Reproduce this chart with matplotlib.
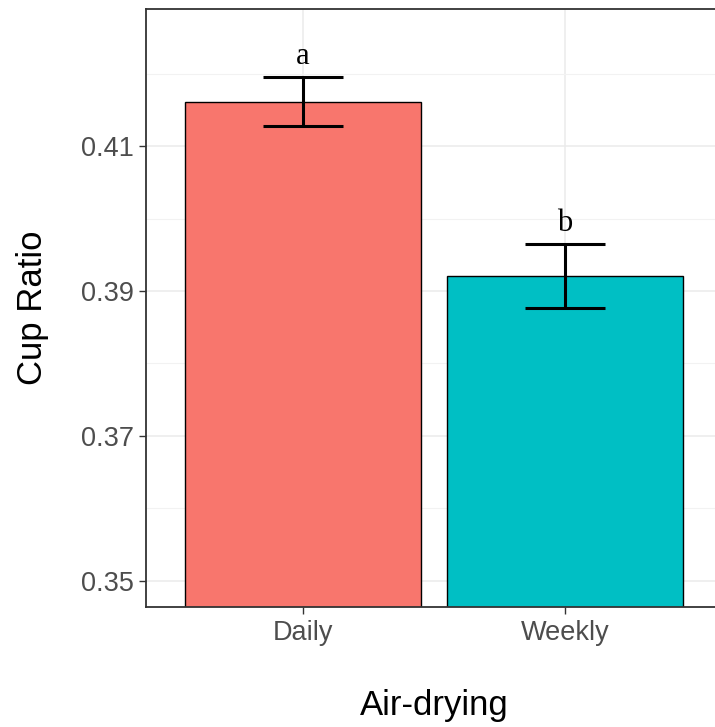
import numpy as np
import matplotlib.pyplot as plt
from matplotlib.ticker import MultipleLocator

# data
groups = ["Daily", "Weekly"]
means = [0.41614, 0.39209]
se = [0.00338, 0.00441]
letters = ["a", "b"]
colors = ["#F8766D", "#00BFC4"]
yticks = [0.35, 0.37, 0.39, 0.41]

fig = plt.figure(figsize=(7.15, 7.27), dpi=100)
ax = fig.add_axes([146 / 715, 1 - 607 / 727, 576 / 715, 598 / 727])

x = np.arange(1, len(groups) + 1)
ax.bar(x, means, width=0.9, color=colors, edgecolor="black", linewidth=1.0, zorder=3)
ax.errorbar(x, means, yerr=se, fmt="none", ecolor="black", elinewidth=2.2,
            capsize=28.5, capthick=2.2, zorder=4)

for xi, m, s, lab in zip(x, means, se, letters):
    ax.text(xi, m + s + 0.0018, lab, ha="center", va="baseline",
            family="Liberation Serif", fontsize=22, zorder=5)

ax.set_xlim(0.4, 2.6)
ax.set_ylim(0.34641, 0.4289)
ax.set_xticks(x)
ax.set_xticklabels(groups)
ax.set_yticks(yticks)
ax.set_yticklabels([f"{v:.2f}" for v in yticks])
ax.yaxis.set_minor_locator(MultipleLocator(0.01))

ax.grid(True, which="major", color="#EBEBEB", linewidth=1.1, zorder=0)
ax.grid(True, which="minor", axis="y", color="#F2F2F2", linewidth=0.8, zorder=0)
ax.tick_params(axis="y", which="minor", length=0)
ax.tick_params(which="major", length=5, width=1.0, color="#333333",
               labelsize=19.5, labelcolor="#4D4D4D", pad=4)
for tl in ax.get_xticklabels() + ax.get_yticklabels():
    tl.set_family("Liberation Sans")

for sp in ax.spines.values():
    sp.set_color("#333333")
    sp.set_linewidth(1.3)
    sp.set_zorder(6)

ax.set_ylabel("Cup Ratio", family="Liberation Sans", fontsize=25, labelpad=23)
ax.set_xlabel("Air-drying", family="Liberation Sans", fontsize=25, labelpad=31)

fig.savefig("out.png", dpi=100)
